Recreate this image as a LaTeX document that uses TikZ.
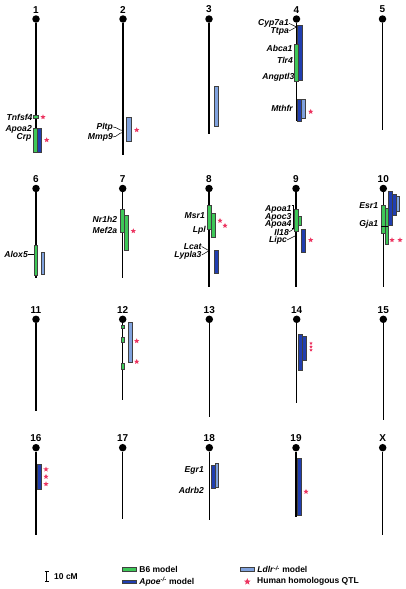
\documentclass[tikz,border=0pt]{standalone}
\usepackage{fontspec}
\setmainfont{Liberation Sans}
\usepackage{tikz}
\usetikzlibrary{arrows.meta,positioning,shapes.geometric}
\usepackage{xcolor}
\definecolor{bsixgreen}{RGB}{62,200,88}
\definecolor{apoeblue}{RGB}{32,62,176}
\definecolor{ldlrblue}{RGB}{128,162,222}
\definecolor{qtlred}{RGB}{236,52,96}

\begin{document}
\begin{tikzpicture}[
    x=1pt,
    y=-1pt,
    centromere/.style={circle,fill=black,minimum size=7.5pt,inner sep=0pt},
    chrnum/.style={font=\fontsize{10}{10}\selectfont\bfseries,inner sep=0pt},
    chrline/.style={draw=black,line width=1.35pt},
    gene/.style={anchor=east,inner sep=0pt,font=\fontsize{8.6}{8.6}\selectfont\bfseries\itshape},
    genetick/.style={draw=black,line width=0.5pt},
    bsix/.style={draw=black!75,fill=bsixgreen,line width=0.5pt},
    apoe/.style={draw=black!75,fill=apoeblue,line width=0.5pt},
    ldlr/.style={draw=black!75,fill=ldlrblue,line width=0.5pt},
    qtl/.style={star,star points=5,star point ratio=2.3,fill=qtlred,inner sep=0pt,minimum size=5.5pt},
    smallqtl/.style={qtl,minimum size=3.6pt},
    legbox/.style={draw=black!75,line width=0.5pt,minimum width=13.3pt,minimum height=3.6pt,inner sep=0pt},
    legtext/.style={anchor=west,inner sep=0pt,font=\fontsize{8.5}{8.5}\selectfont\bfseries}
  ]
    \useasboundingbox (0,0) rectangle (405,589);

    % chromosomes
    \foreach \n/\cx/\cy/\ce in {1/36/19/152, 2/123/19/155, 3/209/19/134, 4/296.5/19/121, 5/382.5/19/130,
        6/36/188.5/278, 7/122.7/188.5/278, 8/209/188.5/287, 9/296/188.5/287, 10/383.3/188.5/287,
        11/36/319.3/411, 12/122.7/319.3/400, 13/209.3/319.3/417, 14/296.7/319.3/403, 15/383.3/319.3/420,
        16/36/447.7/535, 17/122.7/447.7/519, 18/209.3/447.7/520, 19/296/447.7/517, X/382.7/447.7/535} {
      \node[centromere] (c\n) at (\cx,\cy) {};
      \node[chrnum,above=1.8pt of c\n] (n\n) {\n};
      \coordinate (e\n) at (\cx,\ce);
      \draw[chrline] (c\n) -- (e\n);
    }

    % gene labels
    \node[gene] (tnfsf4) at (32.7,117) {Tnfsf4};
    \node[gene] (apoa2) at (32,129.8) {Apoa2};
    \node[gene] (crp) at (31.7,137.8) {Crp};
    \node[gene] (pltp) at (113,127) {Pltp};
    \node[gene] (mmp9) at (113,137) {Mmp9};
    \node[gene] (cyp7a1) at (289,23.3) {Cyp7a1};
    \node[gene] (ttpa) at (289,31) {Ttpa};
    \node[gene] (abca1) at (292.7,48.5) {Abca1};
    \node[gene] (tlr4) at (293,60) {Tlr4};
    \node[gene] (angptl3) at (294.5,77.5) {Angptl3};
    \node[gene] (mthfr) at (293,108.5) {Mthfr};
    \node[gene] (alox5) at (28,254.3) {Alox5};
    \node[gene] (nr1h2) at (117.3,219.3) {Nr1h2};
    \node[gene] (mef2a) at (117.3,230) {Mef2a};
    \node[gene] (msr1) at (205,215.7) {Msr1};
    \node[gene] (lpl) at (206,230) {Lpl};
    \node[gene] (lcat) at (201.7,246.5) {Lcat};
    \node[gene] (lypla3) at (201.7,255) {Lypla3};
    \node[gene] (apoa1) at (291.7,209.7) {Apoa1};
    \node[gene] (apoc3) at (291.7,217) {Apoc3};
    \node[gene] (apoa4) at (291.7,224.3) {Apoa4};
    \node[gene] (il18) at (289,232) {Il18};
    \node[gene] (lipc) at (287,240) {Lipc};
    \node[gene] (esr1) at (378.3,206) {Esr1};
    \node[gene] (gja1) at (378.3,224) {Gja1};
    \node[gene] (egr1) at (204,470) {Egr1};
    \node[gene] (adrb2) at (204,490) {Adrb2};

    % label ticks to the chromosomes
    \coordinate (c2a) at (123,130.5);
    \coordinate (c2b) at (123,132.5);
    \coordinate (c4a) at (296.5,27);
    \coordinate (c6a) at (34,254.3);
    \coordinate (c8a) at (209,250.7);
    \coordinate (c9a) at (294.3,228.5);
    \coordinate (c9b) at (296,235.5);
    \draw[genetick] (pltp.east) to[out=0,in=180] (c2a);
    \draw[genetick] (mmp9.east) to[out=0,in=180] (c2b);
    \draw[genetick] (cyp7a1.east) -- (c4a) -- (ttpa.east);
    \draw[genetick] (alox5.east) -- (c6a);
    \draw[genetick] (lcat.east) -- (c8a) -- (lypla3.east);
    \draw[genetick] (apoa1.north east) -- ++(1.5,0) |- (apoa4.south east);
    \draw[genetick] (il18.east) -- (c9a);
    \draw[genetick] (lipc.east) -- (c9b);

    % QTL intervals
    \draw[bsix] (33.5,115.5) rectangle (38.5,118.5);
    \draw[bsix] (33,128) rectangle (37.3,152);
    \draw[apoe] (37.3,128) rectangle (41.3,152);
    \draw[ldlr] (126.7,117) rectangle (131.7,141.7);
    \draw[ldlr] (214,86.7) rectangle (218.3,126);
    \draw[apoe] (297.5,25) rectangle (301.8,80.7);
    \draw[bsix] (294.5,44.3) rectangle (298.5,81.7);
    \draw[ldlr] (300,99) rectangle (305,118);
    \draw[apoe] (297.3,99) rectangle (301.3,121.7);
    \draw[bsix] (34,245.7) rectangle (37.7,275);
    \draw[ldlr] (41.3,252.7) rectangle (44.7,274);
    \draw[bsix] (120.7,209.3) rectangle (124.7,232);
    \draw[bsix] (124.7,215) rectangle (128,250);
    \draw[bsix] (207.3,205) rectangle (211.7,229.3);
    \draw[bsix] (211.7,213.3) rectangle (215,237.3);
    \draw[apoe] (214.7,250) rectangle (218.3,273.3);
    \draw[bsix] (294.3,209.3) rectangle (298.3,231.7);
    \draw[bsix] (298.3,216) rectangle (301.3,225);
    \draw[apoe] (301.3,229) rectangle (305.3,252.3);
    \draw[ldlr] (396,196.7) rectangle (399.3,211.7);
    \draw[apoe] (392.3,194.3) rectangle (396,215);
    \draw[apoe] (388.3,191) rectangle (392.3,225);
    \draw[bsix] (381.3,205) rectangle (385,233.3);
    \draw[bsix] (385,208.3) rectangle (388.3,244.3);
    \draw[genetick] (381.3,226.7) -- (388.3,226.7);
    \draw[bsix] (121,325.5) rectangle (124.7,328.2);
    \draw[bsix] (121,337.3) rectangle (124.7,342.7);
    \draw[bsix] (121,363.7) rectangle (124.7,369);
    \draw[ldlr] (128.3,322.7) rectangle (132.3,362.3);
    \draw[apoe] (302.7,336.7) rectangle (306,360.3);
    \draw[apoe] (298.7,334.3) rectangle (302.7,370);
    \draw[apoe] (37.3,464.3) rectangle (41.3,489);
    \draw[ldlr] (215.3,463.3) rectangle (218.3,487.3);
    \draw[apoe] (211.7,465) rectangle (215.3,488.3);
    \draw[apoe] (297.3,458.3) rectangle (301.3,515);

    % human homologous QTL
    \node[qtl] (q1a) at (43,117) {};
    \node[qtl] (q1b) at (46.7,140) {};
    \node[qtl] (q2a) at (136.7,130) {};
    \node[qtl] (q4a) at (310.7,111.7) {};
    \node[qtl] (q7a) at (133.3,231) {};
    \node[qtl] (q8a) at (220,220.7) {};
    \node[qtl] (q8b) at (225,225.7) {};
    \node[qtl] (q9a) at (310.7,240) {};
    \node[qtl] (q10a) at (392,240) {};
    \node[qtl] (q10b) at (400,240) {};
    \node[qtl] (q12a) at (136.7,341) {};
    \node[qtl] (q12b) at (136.7,361.7) {};
    \foreach \y in {343.3,346.7,350} {
      \node[smallqtl] (q14\y) at (311,\y) {};
    }
    \foreach \y in {469.3,476.7,484} {
      \node[qtl] (q16\y) at (46,\y) {};
    }
    \node[qtl] (q19a) at (306,491.7) {};

    % legend
    \coordinate (sbtop) at (46.7,571);
    \coordinate (sbbot) at (46.7,582);
    \draw[{Bar[width=4pt]}-{Bar[width=4pt]},line width=0.6pt] (sbtop) -- (sbbot);
    \node[legtext] (sbtext) at (54,576.5) {10 cM};
    \node[legbox,fill=bsixgreen] (lgbsix) at (129.3,569.3) {};
    \node[legtext,right=3pt of lgbsix] (ltbsix) {B6 model};
    \node[legbox,fill=apoeblue] (lgapoe) at (129.3,581.7) {};
    \node[legtext,right=3pt of lgapoe] (ltapoe) {\textit{Apoe}\textsuperscript{\textit{-/-}} model};
    \node[legbox,fill=ldlrblue] (lgldlr) at (247.3,569.3) {};
    \node[legtext,right=3pt of lgldlr] (ltldlr) {\textit{Ldlr}\textsuperscript{\textit{-/-}} model};
    \node[qtl,minimum size=7pt] (lgqtl) at (247.3,581.7) {};
    \node[legtext] (ltqtl) at (257,581.7) {Human homologous QTL};
  \end{tikzpicture}
\end{document}
